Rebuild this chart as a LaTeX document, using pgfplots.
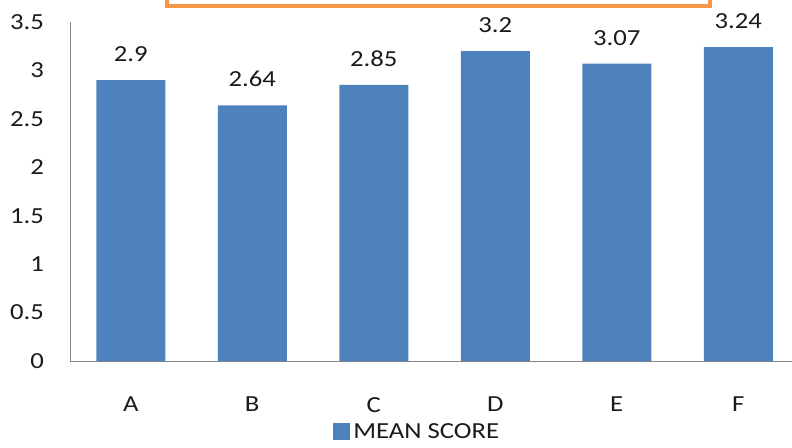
\documentclass[border=0pt]{standalone}
\usepackage{pgfplots}
\pgfplotsset{compat=1.18}
\usepackage{fontspec}
\setmainfont{Carlito}[FakeStretch=1.16]
\definecolor{barblue}{HTML}{4F81BD}
\definecolor{frameorange}{HTML}{F79646}
\definecolor{axisgray}{HTML}{868686}
\definecolor{txt}{HTML}{1A1A1A}
\newcommand{\cf}{\fontsize{23}{27}\selectfont\color{txt}}
\begin{document}
\begin{tikzpicture}[x=1pt,y=1pt]
\path[use as bounding box, clip] (0,0) rectangle (792,447);
\draw[frameorange, line width=4pt] (167,470) -- (167,441) -- (710,441) -- (710,470);
\begin{axis}[
  at={(70pt,86pt)}, anchor=south west,
  scale only axis, width=729pt, height=339pt,
  xmin=-0.5, xmax=5.5, ymin=0, ymax=3.5,
  axis x line*=bottom, axis y line*=left,
  axis line style={draw=axisgray, line width=1pt, -},
  ytick={0,0.5,...,3.5},
  xtick={0,1,2,3,4,5},
  xticklabels={A,B,C,D,E,F},
  major tick length=0pt,
  /pgf/number format/assume math mode=true,
  yticklabel style={font=\cf, anchor=east, inner sep=0pt, xshift=-26pt},
  xticklabel style={font=\cf, anchor=north, inner sep=0pt, yshift=-36pt},
  ybar, bar width=69pt,
  nodes near coords,
  point meta=y,
  nodes near coords style={font=\cf, anchor=south, inner sep=0pt, yshift=18pt},
  legend style={at={(0.477,-0.209)}, anchor=center, draw=none, fill=none,
    font=\cf, inner sep=0pt, nodes={inner sep=3pt}},
  legend image code/.code={\fill[barblue] (0pt,-8.5pt) rectangle (17pt,8.5pt);},
]
\addplot[fill=barblue, draw=none] coordinates {(0,2.9) (1,2.64) (2,2.85) (3,3.2) (4,3.07) (5,3.24)};
\addlegendentry{MEAN SCORE}
\end{axis}
\end{tikzpicture}
\end{document}
